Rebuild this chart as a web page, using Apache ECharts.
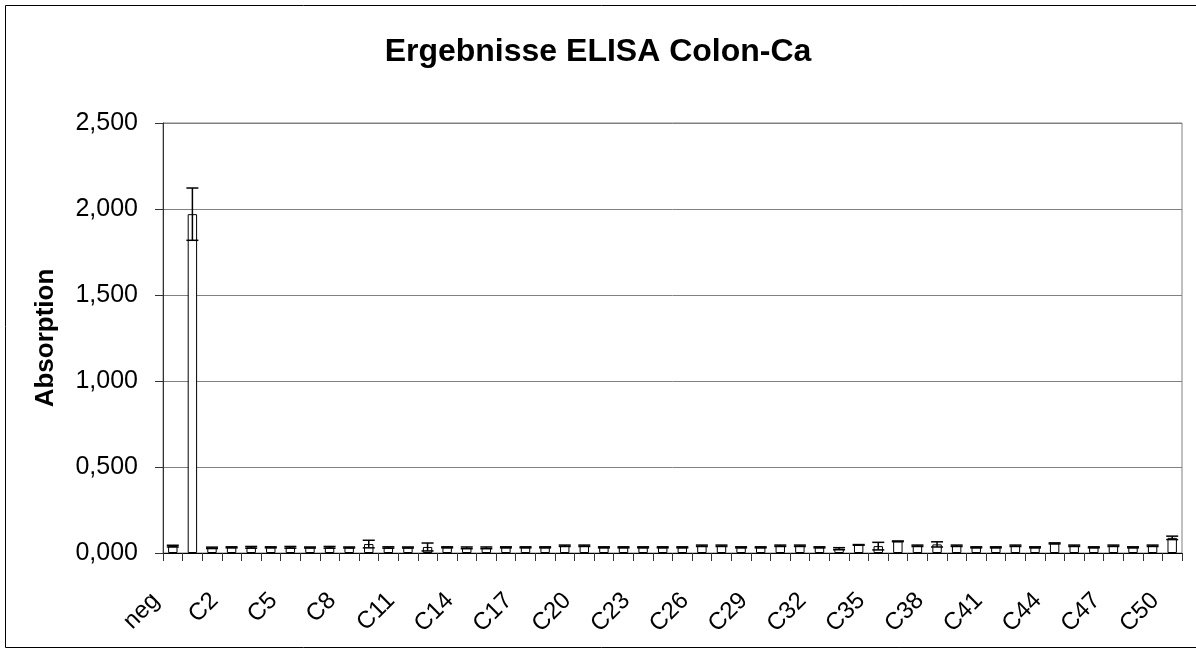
<!DOCTYPE html>
<html>
<head>
<meta charset="utf-8">
<script src="https://cdn.jsdelivr.net/npm/echarts@6/dist/echarts.min.js"></script>
<style>
html,body{margin:0;padding:0;background:#fff;}
#chart{width:1196px;height:653px;}
</style>
</head>
<body>
<div id="chart"></div>
<script>
const categories = ['neg','pos','C1','C2','C3','C4','C5','C6','C7','C8','C9','C10',
  'C11','C12','C13','C14','C15','C16','C17','C18','C19','C20',
  'C21','C22','C23','C24','C25','C26','C27','C28','C29','C30',
  'C31','C32','C33','C34','C35','C36','C37','C38','C39','C40',
  'C41','C42','C43','C44','C45','C46','C47','C48','C49','C50'];

const absorption = [0.040,1.970,0.030,0.033,0.033,0.033,0.033,0.032,0.033,0.032,0.052,0.032,
  0.032,0.035,0.033,0.030,0.030,0.033,0.033,0.033,0.042,0.042,
  0.033,0.033,0.033,0.033,0.033,0.042,0.042,0.033,0.033,0.042,
  0.042,0.033,0.025,0.047,0.040,0.068,0.042,0.050,0.042,0.033,
  0.033,0.042,0.033,0.056,0.042,0.033,0.042,0.033,0.042,0.088];

const errors = [0.005,0.152,0.004,0.003,0.005,0.003,0.005,0.003,0.005,0.003,0.022,0.004,
  0.003,0.023,0.003,0.005,0.005,0.003,0.003,0.003,0.004,0.004,
  0.003,0.003,0.003,0.003,0.003,0.004,0.004,0.003,0.003,0.004,
  0.004,0.003,0.006,0.002,0.022,0.002,0.004,0.015,0.004,0.003,
  0.003,0.004,0.003,0.003,0.004,0.003,0.004,0.003,0.004,0.010];

const yTicks = {min: 0, max: 2.5, interval: 0.5};
const titleText = 'Ergebnisse ELISA Colon-Ca';
const yName = 'Absorption';

const FONT = '"Liberation Sans", Arial, sans-serif';
const errData = absorption.map((v, i) => [i, v, errors[i]]);

const chart = echarts.init(document.getElementById('chart'), null, {renderer: 'canvas'});
chart.setOption({
  backgroundColor: '#fff',
  animation: false,
  title: {
    text: titleText,
    left: 'center',
    top: 31,
    textStyle: {fontFamily: FONT, fontSize: 32, fontWeight: 'bold', color: '#000'}
  },
  graphic: [{
    type: 'rect',
    shape: {x: 5.5, y: 5.5, width: 1200, height: 642},
    style: {fill: 'none', stroke: '#000', lineWidth: 1},
    silent: true
  }],
  grid: {
    left: 163, right: 14, top: 123, bottom: 100,
    show: true, borderColor: '#808080', borderWidth: 1, backgroundColor: 'transparent'
  },
  xAxis: {
    type: 'category',
    data: categories,
    axisLine: {lineStyle: {color: '#000', width: 1}},
    axisTick: {show: true, interval: 0, length: 8, inside: false, lineStyle: {color: '#333'}},
    axisLabel: {
      interval: 2, rotate: 45, margin: 27, padding: [0, 24, 0, 0],
      fontFamily: FONT, fontSize: 24, color: '#000'
    },
    splitLine: {show: false}
  },
  yAxis: {
    type: 'value',
    min: yTicks.min, max: yTicks.max, interval: yTicks.interval,
    name: yName,
    nameLocation: 'middle',
    nameGap: 104,
    nameTextStyle: {fontFamily: FONT, fontSize: 26, fontWeight: 'bold', color: '#000'},
    axisLine: {show: true, lineStyle: {color: '#333', width: 1}},
    axisTick: {show: true, length: 8, lineStyle: {color: '#333'}},
    axisLabel: {
      margin: 25, fontFamily: FONT, fontSize: 25, color: '#000',
      formatter: v => v.toFixed(3).replace('.', ',')
    },
    splitLine: {show: true, lineStyle: {color: '#808080', width: 1}}
  },
  series: [{
    type: 'bar',
    data: absorption,
    barWidth: '48%',
    itemStyle: {color: '#fff', borderColor: '#000', borderWidth: 1},
    z: 2
  }, {
    type: 'custom',
    data: errData,
    z: 3,
    renderItem: function (params, api) {
      const i = api.value(0), v = api.value(1), e = api.value(2);
      const hi = api.coord([i, v + e]);
      const lo = api.coord([i, v - e]);
      const hw = 6;
      const st = {stroke: '#000', lineWidth: 1.5};
      return {
        type: 'group',
        children: [
          {type: 'line', shape: {x1: hi[0], y1: hi[1], x2: lo[0], y2: lo[1]}, style: st},
          {type: 'line', shape: {x1: hi[0] - hw, y1: hi[1], x2: hi[0] + hw, y2: hi[1]}, style: st},
          {type: 'line', shape: {x1: lo[0] - hw, y1: lo[1], x2: lo[0] + hw, y2: lo[1]}, style: st}
        ]
      };
    }
  }]
});
</script>
</body>
</html>
